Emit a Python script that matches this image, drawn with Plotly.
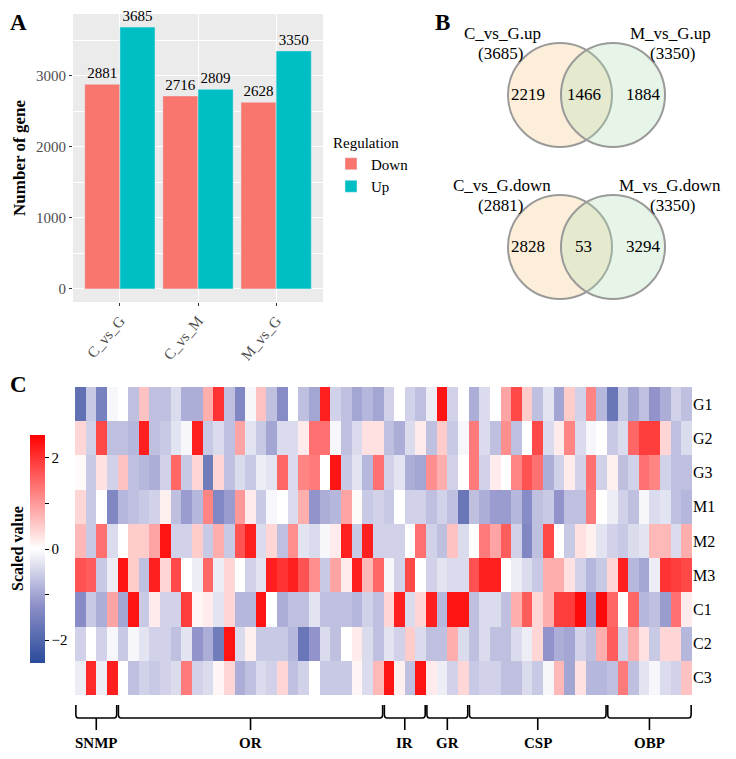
import plotly.graph_objects as go

W, H = 720, 743
OFF = 8  # page body margin in px


def fx(px):
    return (px - OFF) / W


def fy(py):
    return 1 - (py - OFF) / H


FONT = "Palatino Linotype, Book Antiqua, Palatino, Liberation Serif, serif"

# A: number of DEGs
comparisons = ["C_vs_G", "C_vs_M", "M_vs_G"]
down_counts = [2881, 2716, 2628]
up_counts = [3685, 2809, 3350]

# B: venn diagrams
venn_up_sets = ["C_vs_G.up", "M_vs_G.up"]
venn_up_sizes = [3685, 3350]
venn_up_regions = [2219, 1466, 1884]
venn_down_sets = ["C_vs_G.down", "M_vs_G.down"]
venn_down_sizes = [2881, 3350]
venn_down_regions = [2828, 53, 3294]

# C: heatmap of scaled expression
samples = ["G1", "G2", "G3", "M1", "M2", "M3", "C1", "C2", "C3"]
families = ["SNMP", "OR", "IR", "GR", "CSP", "OBP"]
family_sizes = [4, 25, 4, 4, 13, 8]

g1 = [-1.8, -0.6, -1.5, -0.1, 0, -0.7, 0.6, -0.7, -0.7, -0.4, -0.9, -0.9, 0.8, 2.0, -0.7, -1.4, -0.1, 0.6, -0.7, -1.3,
      0, -0.7, -1.0, 2.2, -0.5, -0.7, -1.0, -0.8, -1.0,
      -0.5, 0, -0.5, -0.7, -0.2, 2.3, -0.5, 0, -0.9, -0.4, 0, 0.9, 1.8, 0.5, -0.7, -0.3, -1.0, 0.5, -0.5, 1.2,
      -0.8, -1.7, -0.6, -1.0, -0.7, -1.2, -0.9, -0.5, -0.7]
g2 = [0.4, -0.5, 1.8, -0.7, -0.7, -0.8, 2.2, -0.7, -0.6, -0.3, -0.1, 2.2, -0.6, -0.4, -0.7, 0.9, -0.3, -0.6, -1.0, -0.4,
      -0.4, 0.2, 1.4, 1.4, -0.1, -0.7, -0.4, 0.3, 0.3,
      -0.7, -0.9, -0.4, 0.2, -0.7, 0.5, -0.6, -0.1, 1.3, -0.4, -0.7, 1.1, -0.7, 0, 1.8, -0.4, 0.2, 1.2, -0.4, -0.1,
      0, -0.6, -0.4, 1.5, 1.9, 1.9, 0.4, -0.7, -0.4]
g3 = [0.05, -0.6, 0.3, -0.5, 0.6, -0.7, -0.8, -0.9, -0.5, 1.5, -0.6, 0.4, -1.6, 0.4, -0.7, -0.4, -0.6, -0.2, -0.3, 1.5,
      -0.4, 1.2, 1.3, 0, 2.3, -0.6, -0.3, -0.8, 1.4,
      -0.5, -0.3, -0.9, -1.0, 1.1, 0.8, -0.5, 0, 1.3, -0.5, 0.2, 0, 1.2, 1.7, 1.4, -0.9, -0.5, 0.2, -0.5, 1.4,
      -0.5, 0.15, -0.7, -0.5, 1.4, 1.2, -0.5, -0.7, -0.7]
m1 = [0.4, -0.6, 0, -1.4, -0.8, -0.7, -0.6, -0.5, 0.15, -0.7, -1.1, -0.8, 1.2, -1.4, -1.1, 1.0, 0.2, -0.6, -0.1, 0,
      -0.4, 0.8, -1.2, -0.9, -0.8, 0.9, 0.05, -0.6, -0.5,
      -0.6, 0, -0.5, -0.5, -0.7, -0.5, -0.7, -1.7, -0.7, -0.9, -1.1, -1.1, -0.8, -1.3, -0.7, -0.6, -1.2, -0.7, -0.7, 1.3,
      0, -0.2, -0.5, -0.7, -0.1, -0.4, -0.3, -0.7, -0.8]
m2 = [0.7, -0.6, 1.4, -0.4, 0, 0.5, 0.5, 0.9, 2.3, -0.5, -0.5, 0.5, -0.6, 0.8, -0.6, 1.7, 2.2, -0.4, 0.4, -0.7,
      1.1, -0.3, -0.4, -0.1, 0.2, 2.2, -0.6, 2.2, -0.5,
      -0.5, -0.5, 0, 1.4, -0.5, -0.7, 0.6, -0.4, 0, 1.3, 0.9, 1.6, -0.5, -1.4, -0.7, 1.8, 0, -0.6, 0.3, 0.15,
      -0.3, -0.5, -0.6, -0.4, -0.3, 0.7, 0.7, -0.4, 0.8]
m3 = [1.7, 1.6, -0.6, -0.2, 2.3, 0.5, -0.7, 2.2, 0.4, 1.8, 0, -0.2, 1.5, -0.2, 0.4, 0, -0.5, -0.3, 2.2, 2.0,
      2.2, 1.7, 1.1, -0.6, 0.9, 0.2, 2.2, 0.7, 1.5,
      -0.1, -0.5, 1.8, 0, -0.5, -0.3, -0.4, -0.4, 1.7, 2.2, 2.2, 0, -0.2, -0.4, -0.6, 0.8, 0.8, 0.3, -0.5, -0.8,
      -0.6, 0.4, 2.2, -0.8, -1.0, -0.2, 2.0, 1.9, 1.8]
c1 = [-1.3, -0.6, -0.9, 0.9, -1.0, 2.3, -0.6, 0.2, -0.5, -0.5, 1.9, 0.1, 0.2, -0.3, 0.4, -0.8, -0.8, 2.3, 0, -0.9,
      -0.7, -0.7, -0.3, -0.7, -0.7, -0.7, -0.8, -0.5, -0.7,
      0.4, 2.2, -0.4, 0.4, 2.2, -0.8, 2.3, 2.3, -0.7, -0.4, -0.4, -0.7, 0.8, 1.6, 0.4, 0.8, 1.9, 1.9, 2.4, -1.2,
      2.4, 1.5, 0, 1.5, -0.8, -0.7, -1.1, 1.4, 0.2]
c2 = [-0.5, 0, -0.5, -0.1, -0.6, -0.1, -0.3, -0.5, -0.5, -0.7, -0.3, -1.2, -0.9, -1.6, 2.3, -0.4, 0.15, -0.6, -0.6, -0.6,
      -0.8, -1.7, -1.2, -0.4, -0.7, 0, 0.2, -0.4, -0.7,
      -0.3, -0.5, 0.5, -0.4, -0.7, -0.7, 0.8, -0.4, -0.7, -0.4, -0.7, -0.7, -0.4, -0.2, 0.4, -1.2, -0.9, -1.0, -0.5, -0.7,
      0.8, 1.6, -0.5, 0.8, 0.3, -0.6, 0.4, 0.4, -0.8]
c3 = [-0.2, 2.1, -0.2, 2.2, 0, -0.7, -0.5, -0.6, -0.5, -0.4, 1.3, -0.5, -0.4, 0.1, 0.4, -0.9, -0.7, -0.4, -0.5, 0.4,
      -0.7, -0.5, 0, -0.6, -0.6, -0.6, 0.1, -0.4, 0.7,
      2.3, 0.15, -0.7, 2.3, 0.2, -0.2, -0.5, 0.4, -0.6, -0.5, -0.5, -0.7, -0.7, -0.4, -0.6, -0.1, 0.7, -1.0, 0.3, -0.8,
      -0.8, -0.7, 1.3, -0.7, -0.3, -0.1, -0.4, -0.5, 0.6]
heat_rows = [g1, g2, g3, m1, m2, m3, c1, c2, c3]
n_genes = sum(family_sizes)

fig = go.Figure()

# ---- A: bars
fig.add_trace(go.Bar(x=comparisons, y=down_counts, name="Down", marker_color="#F8766D",
                     text=down_counts, textposition="outside", cliponaxis=False,
                     textfont=dict(size=15, color="black", family=FONT), xaxis="x", yaxis="y"))
fig.add_trace(go.Bar(x=comparisons, y=up_counts, name="Up", marker_color="#00BFC4",
                     text=up_counts, textposition="outside", cliponaxis=False,
                     textfont=dict(size=15, color="black", family=FONT), xaxis="x", yaxis="y"))

# ---- C: heatmap
fig.add_trace(go.Heatmap(
    z=heat_rows, x=list(range(n_genes)), y=samples, xaxis="x2", yaxis="y2",
    zmin=-2.5, zmax=2.5,
    colorscale=[[0, "#2A4B9B"], [0.25, "#8C8FC8"], [0.5, "#FFFFFF"], [0.75, "#FF8080"], [1, "#FF0000"]],
    colorbar=dict(x=fx(30), xanchor="left", xpad=0, y=fy(549), yanchor="middle", ypad=0,
                  len=228 / H, thickness=15, outlinewidth=0,
                  tickvals=[-2, -1, 0, 1, 2], ticktext=["\u22122", "", "0", "", "2"],
                  ticks="outside", ticklen=4, tickcolor="black",
                  tickfont=dict(size=15, family=FONT, color="black")),
))

shapes = []
annotations = []


def label(x, y, text, size, xref="paper", xanchor="center", yanchor="middle", **kw):
    annotations.append(dict(x=x, y=y, xref=xref, yref="paper", text=text, showarrow=False,
                            xanchor=xanchor, yanchor=yanchor,
                            font=dict(size=size, family=FONT, color="black"), **kw))


# ---- B: venn diagrams
venn_cx = [560, 613]
venn_r = 52
venn_cy = [95, 247]
venn_fills = ["rgba(250,205,150,0.35)", "rgba(175,222,180,0.3)"]
venn_data = [(venn_up_sets, venn_up_sizes, venn_up_regions),
             (venn_down_sets, venn_down_sizes, venn_down_regions)]
for cy, (names, sizes, regions) in zip(venn_cy, venn_data):
    for cx, fill in zip(venn_cx, venn_fills):
        shapes.append(dict(type="circle", xref="paper", yref="paper",
                           x0=fx(cx - venn_r), x1=fx(cx + venn_r),
                           y0=fy(cy + venn_r), y1=fy(cy - venn_r),
                           fillcolor=fill, line=dict(color="#9A9A9A", width=2)))
    name_x = [venn_cx[0] - 58, venn_cx[1] + 57]
    size_x = [venn_cx[0] - 60, venn_cx[1] + 59]
    for nx, sx, nm, sz in zip(name_x, size_x, names, sizes):
        label(fx(nx), fy(cy - 62), nm, 17)
        label(fx(sx), fy(cy - 42), "(%d)" % sz, 17)
    reg_x = [venn_cx[0] - 0.62 * venn_r, (venn_cx[0] + venn_cx[1]) / 2 - 3, venn_cx[1] + 0.58 * venn_r]
    for rx, val in zip(reg_x, regions):
        label(fx(rx), fy(cy), str(val), 17)

# ---- C: family brackets
y_top, y_bar, y_tick = fy(705), fy(718), fy(730)
start = 0
for fam, size in zip(families, family_sizes):
    a = start - 0.5 + 0.08
    b = start + size - 0.5 - 0.08
    mid = (a + b) / 2
    d = 0.25
    e = 0.005
    path = ("M %f,%f L %f,%f Q %f,%f %f,%f L %f,%f Q %f,%f %f,%f L %f,%f "
            "M %f,%f L %f,%f") % (a, y_top, a, y_bar + e, a, y_bar, a + d, y_bar,
                                  b - d, y_bar, b, y_bar, b, y_bar + e, b, y_top,
                                  mid, y_bar, mid, y_tick)
    shapes.append(dict(type="path", xref="x2", yref="paper", path=path,
                       line=dict(color="black", width=1.6)))
    label(mid, fy(743), "<b>%s</b>" % fam, 15, xref="x2")
    start += size

# colorbar title and panel letters
label(fx(17), fy(549), "<b>Scaled value</b>", 16, textangle=-90)
label(fx(8), fy(8), "<b>A</b>", 23, xanchor="left", yanchor="top")
label(fx(433), fy(8), "<b>B</b>", 23, xanchor="left", yanchor="top")
label(fx(8), fy(384), "<b>C</b>", 23, xanchor="left")

gray = "#4D4D4D"
fig.update_layout(
    width=W, height=H, margin=dict(l=0, r=0, t=0, b=0),
    paper_bgcolor="white", plot_bgcolor="#EBEBEB",
    font=dict(family=FONT, color="black"),
    barmode="group", bargap=0.1, bargroupgap=0,
    shapes=shapes, annotations=annotations,
    legend=dict(x=fx(331), y=fy(128), xanchor="left", yanchor="top",
                title=dict(text="Regulation", font=dict(size=15, family=FONT)),
                font=dict(size=15, family=FONT), bgcolor="rgba(0,0,0,0)", tracegroupgap=0),
    xaxis=dict(domain=[fx(73), fx(323)], anchor="y", range=[-0.6, 2.6],
               showgrid=True, gridcolor="white", gridwidth=1.3, zeroline=False,
               ticks="outside", ticklen=3, tickcolor="#333333", tickangle=-50,
               tickfont=dict(size=15, color=gray, family=FONT)),
    yaxis=dict(domain=[fy(302), fy(14)], anchor="x", range=[-184.25, 3869.25],
               dtick=1000, showgrid=True, gridcolor="white", gridwidth=1.3, zeroline=False,
               minor=dict(dtick=500, showgrid=True, gridcolor="white", gridwidth=0.6),
               ticks="outside", ticklen=3, tickcolor="#333333",
               tickfont=dict(size=15, color=gray, family=FONT),
               title=dict(text="<b>Number of gene</b>", standoff=6, font=dict(size=17, family=FONT))),
    xaxis2=dict(domain=[fx(75), fx(692)], anchor="y2", range=[-0.5, n_genes - 0.5],
                showticklabels=False, showgrid=False, zeroline=False, ticks=""),
    yaxis2=dict(domain=[fy(695), fy(387)], anchor="x2", side="right", autorange="reversed",
                showgrid=False, zeroline=False, ticks="",
                tickfont=dict(size=16, family=FONT, color="black")),
)

fig.write_html("out.html")
